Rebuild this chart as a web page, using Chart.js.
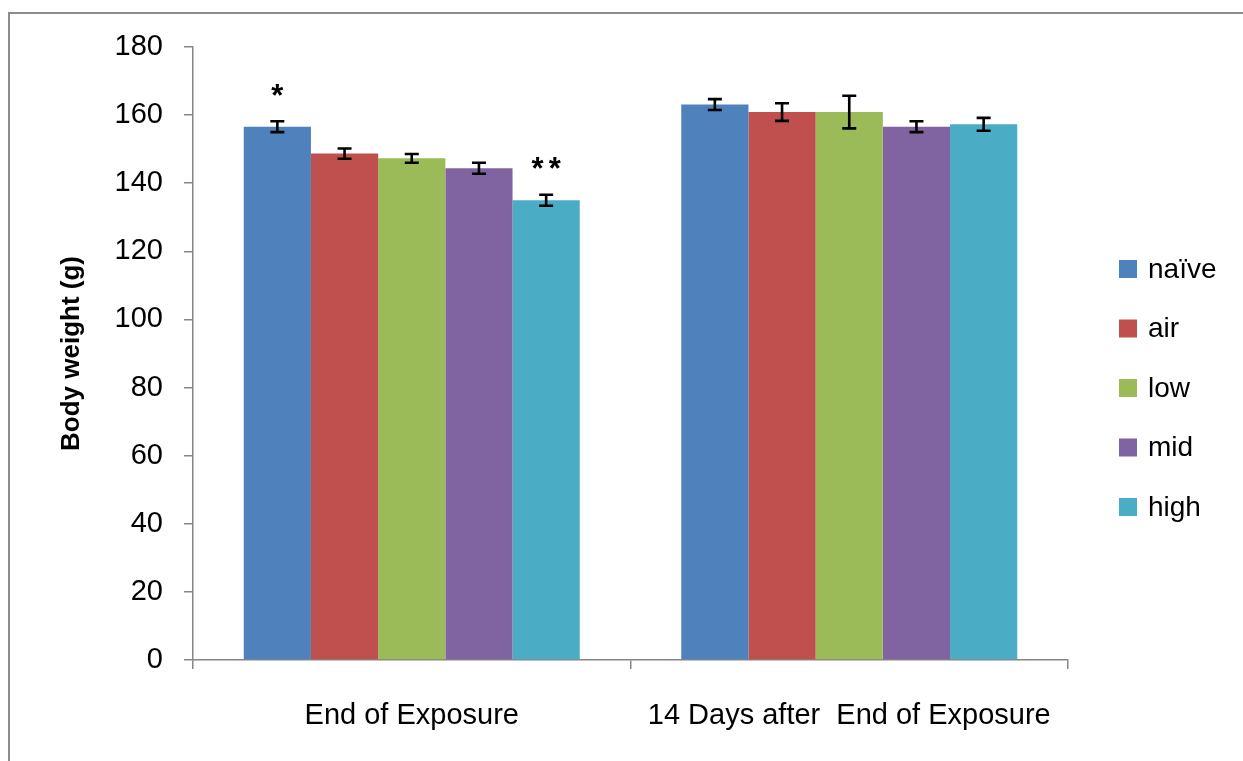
<!DOCTYPE html>
<html>
<head>
<meta charset="utf-8">
<script src="https://cdn.jsdelivr.net/npm/chart.js@4/dist/chart.umd.min.js"></script>
<style>
  html, body { margin: 0; padding: 0; background: #fff; overflow: hidden; }
  #wrap { position: relative; width: 1243px; height: 761px; }
  #frame { position: absolute; left: 8px; top: 12px; width: 1300px; height: 800px;
           border-top: 2px solid #8c8c8c; border-left: 2px solid #8c8c8c; box-sizing: border-box; pointer-events: none; }
  canvas { position: absolute; left: 0; top: 0; }
</style>
</head>
<body>
<div id="wrap">
  <canvas id="c" width="1243" height="761"></canvas>
  <div id="frame"></div>
</div>
<script>
// ---- data ----
const categories = ['End of Exposure', '14 Days after  End of Exposure'];
const seriesNames = ['naïve', 'air', 'low', 'mid', 'high'];
const naive = [156.6, 163.1];
const air   = [148.7, 160.9];
const low   = [147.3, 160.9];
const mid   = [144.4, 156.6];
const high  = [135.0, 157.3];
const naiveErr = [1.6, 1.6];
const airErr   = [1.5, 2.6];
const lowErr   = [1.3, 4.8];
const midErr   = [1.6, 1.6];
const highErr  = [1.6, 1.9];
const naiveMark = ['*', ''];
const airMark   = ['', ''];
const lowMark   = ['', ''];
const midMark   = ['', ''];
const highMark  = ['**', ''];
const yTicks = [0, 20, 40, 60, 80, 100, 120, 140, 160, 180];
const yTitle = 'Body weight (g)';

const colors = ['#4F81BD', '#C0504D', '#9BBB59', '#8064A2', '#4BACC6'];
const values = [naive, air, low, mid, high];
const errors = [naiveErr, airErr, lowErr, midErr, highErr];
const marks  = [naiveMark, airMark, lowMark, midMark, highMark];

const FONT = "'Liberation Sans', Arial, sans-serif";

const datasets = seriesNames.map((name, i) => ({
  label: name,
  data: values[i],
  errors: errors[i],
  marks: marks[i],
  backgroundColor: colors[i],
  borderWidth: 0,
  barPercentage: 1.0,
  categoryPercentage: 0.768
}));

const errorBarPlugin = {
  id: 'errorBars',
  afterDatasetsDraw(chart) {
    const ctx = chart.ctx;
    const y = chart.scales.y;
    ctx.save();
    chart.data.datasets.forEach((ds, di) => {
      const meta = chart.getDatasetMeta(di);
      meta.data.forEach((bar, i) => {
        const v = ds.data[i], e = ds.errors[i];
        const x = bar.x;
        const yTop = y.getPixelForValue(v + e);
        const yBot = y.getPixelForValue(v - e);
        ctx.strokeStyle = '#000';
        ctx.lineWidth = 2.6;
        ctx.beginPath();
        ctx.moveTo(x, yTop); ctx.lineTo(x, yBot);
        ctx.moveTo(x - 7, yTop); ctx.lineTo(x + 7, yTop);
        ctx.moveTo(x - 7, yBot); ctx.lineTo(x + 7, yBot);
        ctx.stroke();
        const m = ds.marks[i];
        if (m) {
          ctx.fillStyle = '#000';
          ctx.font = 'bold 31px ' + FONT;
          ctx.textAlign = 'left';
          ctx.textBaseline = 'middle';
          const gap = 5;
          const cw = ctx.measureText('*').width;
          const total = m.length * cw + (m.length - 1) * gap;
          let sx = x - total / 2;
          for (const ch of m) {
            ctx.fillText(ch, sx, yTop - 24);
            sx += cw + gap;
          }
        }
      });
    });
    ctx.restore();
  }
};

const legendPlugin = {
  id: 'customLegend',
  afterDraw(chart) {
    const ctx = chart.ctx;
    ctx.save();
    ctx.font = '28px ' + FONT;
    ctx.textBaseline = 'middle';
    ctx.textAlign = 'left';
    chart.data.datasets.forEach((ds, i) => {
      const cy = 269 + i * 59.5;
      ctx.fillStyle = ds.backgroundColor;
      ctx.fillRect(1119, cy - 9, 18, 18);
      ctx.fillStyle = '#000';
      ctx.fillText(ds.label, 1148, cy + 1);
    });
    ctx.restore();
  }
};

const bgPlugin = {
  id: 'bg',
  beforeDraw(chart) {
    const ctx = chart.ctx;
    ctx.save();
    ctx.fillStyle = '#fff';
    ctx.fillRect(0, 0, chart.width, chart.height);
    ctx.restore();
  }
};

new Chart(document.getElementById('c'), {
  type: 'bar',
  data: { labels: categories, datasets },
  options: {
    responsive: false,
    animation: false,
    devicePixelRatio: 1,
    layout: { padding: { left: 0, top: 47, right: 175, bottom: 0 } },
    plugins: { legend: { display: false }, tooltip: { enabled: false } },
    scales: {
      x: {
        grid: { display: true, drawOnChartArea: false, offset: true, tickLength: 9, color: '#868686', lineWidth: 1.5 },
        border: { display: true, color: '#868686', width: 1.5 },
        ticks: { color: '#000', font: { family: FONT, size: 29 }, padding: 30, maxRotation: 0, autoSkip: false },
        afterFit(scale) { scale.height = 101; }
      },
      y: {
        min: 0, max: 180,
        afterBuildTicks(scale) { scale.ticks = yTicks.map(v => ({ value: v })); },
        grid: { display: true, drawOnChartArea: false, tickLength: 9, color: '#868686', lineWidth: 1.5 },
        border: { display: true, color: '#868686', width: 1.5 },
        ticks: { color: '#000', font: { family: FONT, size: 29 }, padding: 21 },
        title: { display: true, text: yTitle, color: '#000', font: { family: FONT, size: 26, weight: 'bold' }, padding: { top: 56, bottom: 0 } },
        afterFit(scale) { scale.width = 193; }
      }
    }
  },
  plugins: [bgPlugin, errorBarPlugin, legendPlugin]
});
</script>
</body>
</html>
